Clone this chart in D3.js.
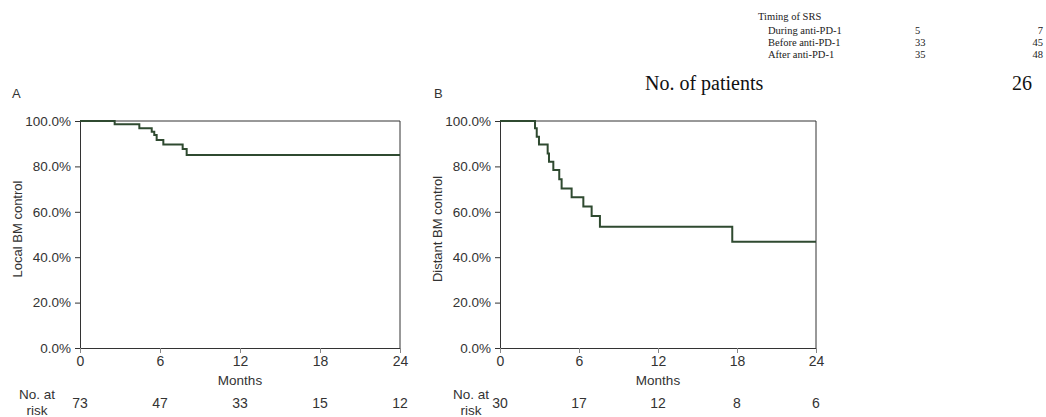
<!DOCTYPE html>
<html>
<head>
<meta charset="utf-8">
<script src="https://cdn.jsdelivr.net/npm/d3@7"></script>
<style>
  html, body { margin: 0; padding: 0; background: #fff; }
  svg { display: block; }
</style>
</head>
<body>
<svg id="chart" width="1046" height="417"></svg>
<script>
// ---- data ----
const monthTicks = [0, 6, 12, 18, 24];
const pctTicks = [0, 0.2, 0.4, 0.6, 0.8, 1.0];

// Panel A: Local BM control (step times in months, survival after step)
const localTimes = [0, 2.6, 4.45, 5.38, 5.57, 5.75, 6.25, 7.7, 8.0, 24];
const localValues = [1.0, 0.986, 0.968, 0.953, 0.938, 0.916, 0.897, 0.877, 0.85, 0.85];
const localAtRisk = [73, 47, 33, 15, 12];

// Panel B: Distant BM control
const distantTimes = [0, 2.66, 2.79, 2.96, 3.62, 3.72, 4.05, 4.5, 4.68, 5.44, 6.33, 6.96, 7.59, 17.64, 24];
const distantValues = [1.0, 0.968, 0.931, 0.897, 0.857, 0.821, 0.784, 0.743, 0.703, 0.664, 0.623, 0.581, 0.534, 0.468, 0.468];
const distantAtRisk = [30, 17, 12, 8, 6];

// Overlapping table fragment (top right)
const tableHeader = "Timing of SRS";
const tableRows = ["During anti-PD-1", "Before anti-PD-1", "After anti-PD-1"];
const tableCol1 = ["5", "33", "35"];
const tableCol2 = ["7", "45", "48"];
const patientsLabel = "No. of patients";
const patientsValue = "26";

const svg = d3.select("#chart");
const sans = "'Liberation Sans', Arial, Helvetica, sans-serif";
const serif = "'Liberation Serif', 'Times New Roman', serif";
const textColor = "#333";
const axisColor = "#333";
const lineColor = "#2f4a30";

// ---- top-right table ----
const tbl = svg.append("g").attr("font-family", serif).attr("fill", "#1a1a1a");
tbl.append("text").attr("x", 758).attr("y", 20).attr("font-size", 10.5).text(tableHeader);
tableRows.forEach((r, i) => {
  const y = 34 + i * 12;
  tbl.append("text").attr("x", 768).attr("y", y).attr("font-size", 10.5).text(r);
  tbl.append("text").attr("x", 915).attr("y", y).attr("font-size", 10.5).text(tableCol1[i]);
  tbl.append("text").attr("x", 1043).attr("y", y).attr("font-size", 10.5).attr("text-anchor", "end").text(tableCol2[i]);
});
tbl.append("text").attr("x", 645).attr("y", 90).attr("font-size", 20).attr("fill", "#111").text(patientsLabel);
tbl.append("text").attr("x", 1032).attr("y", 90).attr("font-size", 20).attr("fill", "#111").attr("text-anchor", "end").text(patientsValue);

// ---- panels ----
function panel(opts) {
  const { x0, x1, label, letter, letterX, yLabelX, riskX, times, values, atRisk } = opts;
  const yTop = 121, yBot = 348;
  const x = d3.scaleLinear().domain([0, 24]).range([x0, x1]);
  const y = d3.scaleLinear().domain([0, 1]).range([yBot, yTop]);
  const g = svg.append("g").attr("font-family", sans);

  // panel letter
  g.append("text").attr("x", letterX).attr("y", 98).attr("font-size", 13)
    .attr("fill", textColor).text(letter);

  // box (top and right)
  g.append("line").attr("x1", x0).attr("x2", x1).attr("y1", yTop).attr("y2", yTop)
    .attr("stroke", axisColor).attr("stroke-width", 1);
  g.append("line").attr("x1", x1).attr("x2", x1).attr("y1", yTop).attr("y2", yBot)
    .attr("stroke", axisColor).attr("stroke-width", 1);

  // y axis
  const yAxis = d3.axisLeft(y).tickValues(pctTicks).tickFormat(d3.format(".1%"))
    .tickSize(5).tickPadding(4);
  const ya = g.append("g").attr("transform", `translate(${x0},0)`).call(yAxis);
  ya.select(".domain").attr("stroke", axisColor);
  ya.selectAll(".tick line").attr("stroke", axisColor);
  ya.selectAll(".tick text").attr("font-size", 13.5).attr("fill", textColor)
    .attr("font-family", sans);

  // x axis
  const xAxis = d3.axisBottom(x).tickValues(monthTicks).tickSize(5).tickPadding(3);
  const xa = g.append("g").attr("transform", `translate(0,${yBot})`).call(xAxis);
  xa.select(".domain").attr("stroke", axisColor);
  xa.selectAll(".tick line").attr("stroke", "#888");
  xa.selectAll(".tick text").attr("font-size", 14).attr("fill", textColor)
    .attr("font-family", sans);

  // x label
  g.append("text").attr("x", (x0 + x1) / 2).attr("y", 385).attr("text-anchor", "middle")
    .attr("font-size", 13.5).attr("fill", textColor).text("Months");

  // y label
  g.append("text").attr("transform", `translate(${yLabelX},229) rotate(-90)`)
    .attr("text-anchor", "middle").attr("font-size", 13).attr("fill", textColor).text(label);

  // curve
  const pts = times.map((t, i) => [t, values[i]]);
  const line = d3.line().x(d => x(d[0])).y(d => y(d[1])).curve(d3.curveStepAfter);
  g.append("path").datum(pts).attr("d", line).attr("fill", "none")
    .attr("stroke", lineColor).attr("stroke-width", 2);

  // number at risk
  g.append("text").attr("x", riskX).attr("y", 399).attr("text-anchor", "middle")
    .attr("font-size", 13.5).attr("fill", textColor).text("No. at");
  g.append("text").attr("x", riskX).attr("y", 415).attr("text-anchor", "middle")
    .attr("font-size", 13.5).attr("fill", textColor).text("risk");
  g.selectAll("text.risk").data(atRisk).join("text").attr("class", "risk")
    .attr("x", (d, i) => x(monthTicks[i])).attr("y", 408).attr("text-anchor", "middle")
    .attr("font-size", 14).attr("fill", textColor).text(d => d);
}

panel({ x0: 80, x1: 400, label: "Local BM control", letter: "A", letterX: 12, yLabelX: 22,
  riskX: 37, times: localTimes, values: localValues, atRisk: localAtRisk });
panel({ x0: 500, x1: 816, label: "Distant BM control", letter: "B", letterX: 434, yLabelX: 442,
  riskX: 471, times: distantTimes, values: distantValues, atRisk: distantAtRisk });
</script>
</body>
</html>
